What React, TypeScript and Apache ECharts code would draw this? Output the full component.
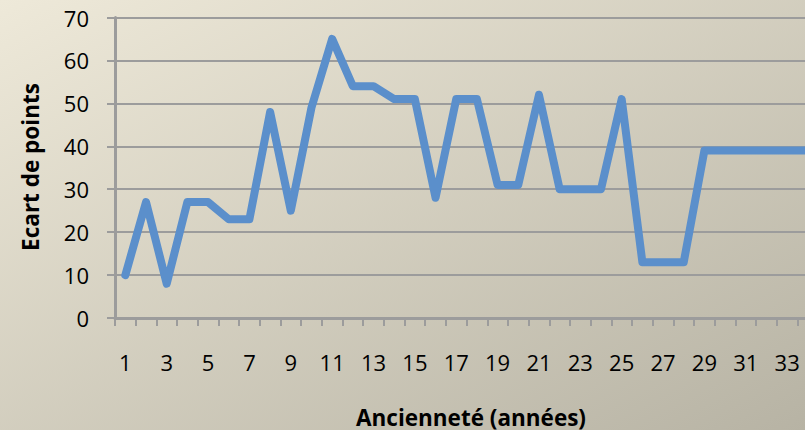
import React, { useEffect, useRef } from "react";
import * as echarts from "echarts";

const categories = [
  "1", "2", "3", "4", "5", "6", "7", "8", "9", "10",
  "11", "12", "13", "14", "15", "16", "17", "18", "19", "20",
  "21", "22", "23", "24", "25", "26", "27", "28", "29", "30",
  "31", "32", "33", "34", "35",
];
const ecartValues = [
  10, 27, 8, 27, 27, 23, 23, 48, 25, 49,
  65, 54, 54, 51, 51, 28, 51, 51, 31, 31,
  52, 30, 30, 30, 51, 13, 13, 13, 39, 39,
  39, 39, 39, 39, 39,
];
const yAxisTitle = "Ecart de points";
const xAxisTitle = "Ancienneté (années)";

const FONT = "'Open Sans', 'Noto Sans', sans-serif";
const GRID_COLOR = "#9c9c9c";

export default function App() {
  const ref = useRef<HTMLDivElement>(null);
  useEffect(() => {
    if (!ref.current) return;
    const chart = echarts.init(ref.current, undefined, { renderer: "svg" });
    chart.setOption({
      animation: false,
      grid: { left: 115, top: 17.5, bottom: 112, right: 0, containLabel: false },
      xAxis: {
        type: "category",
        data: categories,
        boundaryGap: true,
        axisLine: { show: true, lineStyle: { color: GRID_COLOR, width: 3 } },
        axisTick: { show: true, interval: 0, length: 8, lineStyle: { color: GRID_COLOR, width: 2 } },
        axisLabel: { interval: 1, margin: 33, color: "#000", fontSize: 22, fontFamily: FONT },
        splitLine: { show: false },
      },
      yAxis: {
        type: "value",
        min: 0,
        max: 70,
        interval: 10,
        axisLine: { show: true, lineStyle: { color: GRID_COLOR, width: 3 } },
        axisTick: { show: true, length: 8, lineStyle: { color: GRID_COLOR, width: 2 } },
        axisLabel: { margin: 26, color: "#000", fontSize: 22, fontFamily: FONT },
        splitLine: { show: true, lineStyle: { color: GRID_COLOR, width: 2 } },
      },
      graphic: [
        {
          type: "text",
          x: 471,
          y: 417,
          style: {
            text: xAxisTitle,
            fill: "#000",
            font: `bold 22.5px ${FONT}`,
            textAlign: "center",
            textVerticalAlign: "middle",
          },
        },
        {
          type: "text",
          x: 30,
          y: 167,
          rotation: Math.PI / 2,
          style: {
            text: yAxisTitle,
            fill: "#000",
            font: `bold 22.5px ${FONT}`,
            textAlign: "center",
            textVerticalAlign: "middle",
          },
        },
      ],
      series: [
        {
          type: "line",
          data: ecartValues,
          symbol: "none",
          lineStyle: { color: "#5b8fcb", width: 8, cap: "round", join: "round" },
        },
      ],
    });
    return () => chart.dispose();
  }, []);
  return (
    <div
      style={{
        position: "fixed",
        left: 0,
        top: 0,
        width: 805,
        height: 430,
        overflow: "hidden",
        background: "linear-gradient(to bottom right, #eee9d9, #b7b3a4)",
      }}
    >
      <div ref={ref} style={{ width: 844, height: 430 }} />
    </div>
  );
}
